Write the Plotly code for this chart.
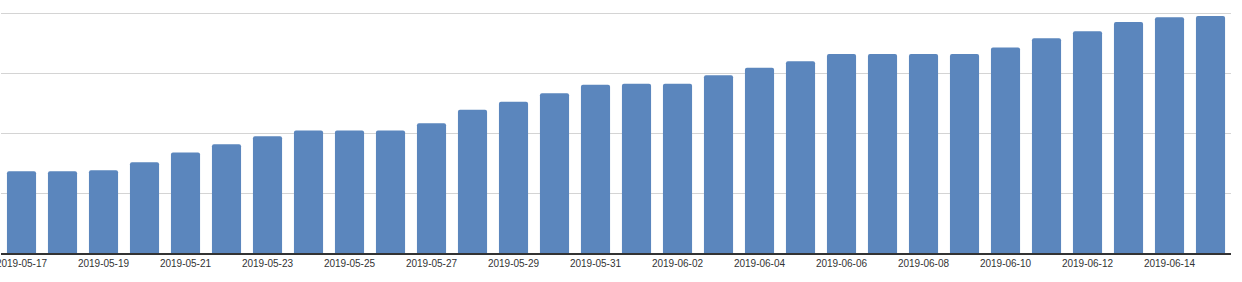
import plotly.graph_objects as go

dates = [
    "2019-05-17", "2019-05-18", "2019-05-19", "2019-05-20", "2019-05-21",
    "2019-05-22", "2019-05-23", "2019-05-24", "2019-05-25", "2019-05-26",
    "2019-05-27", "2019-05-28", "2019-05-29", "2019-05-30", "2019-05-31",
    "2019-06-01", "2019-06-02", "2019-06-03", "2019-06-04", "2019-06-05",
    "2019-06-06", "2019-06-07", "2019-06-08", "2019-06-09", "2019-06-10",
    "2019-06-11", "2019-06-12", "2019-06-13", "2019-06-14", "2019-06-15",
]
values = [
    137, 137, 138.5, 152, 168, 182, 195.5, 205, 205, 205,
    217, 239.5, 253, 267.5, 281.5, 283, 283, 297.5, 310, 321,
    333, 333, 333, 333, 344, 359.5, 371, 386.5, 394.5, 396.5,
]
tick_labels = dates[::2]

fig = go.Figure(
    go.Bar(
        x=dates,
        y=values,
        marker=dict(color="#5b86bd", line=dict(width=0), cornerradius=2),
        hoverinfo="x+y",
    )
)

fig.update_layout(
    width=1242,
    height=282,
    margin=dict(l=1, r=11, t=2, b=29),
    paper_bgcolor="white",
    plot_bgcolor="white",
    bargap=0.29,
    showlegend=False,
    font=dict(family="Liberation Sans, Arial, sans-serif", size=10, color="#333"),
)
fig.update_xaxes(
    type="category",
    tickvals=tick_labels,
    ticktext=tick_labels,
    automargin=False,
    showgrid=False,
    showline=True,
    linecolor="#333",
    linewidth=1.5,
    ticks="",
    tickfont=dict(size=10, color="#333"),
    range=[-0.5, len(dates) - 0.5],
)
fig.update_yaxes(
    range=[0, 420],
    tickvals=[100, 200, 300, 400],
    automargin=False,
    showticklabels=False,
    showgrid=True,
    gridcolor="#d4d4d4",
    gridwidth=1,
    zeroline=False,
    ticks="",
)

fig.write_html("out.html")
